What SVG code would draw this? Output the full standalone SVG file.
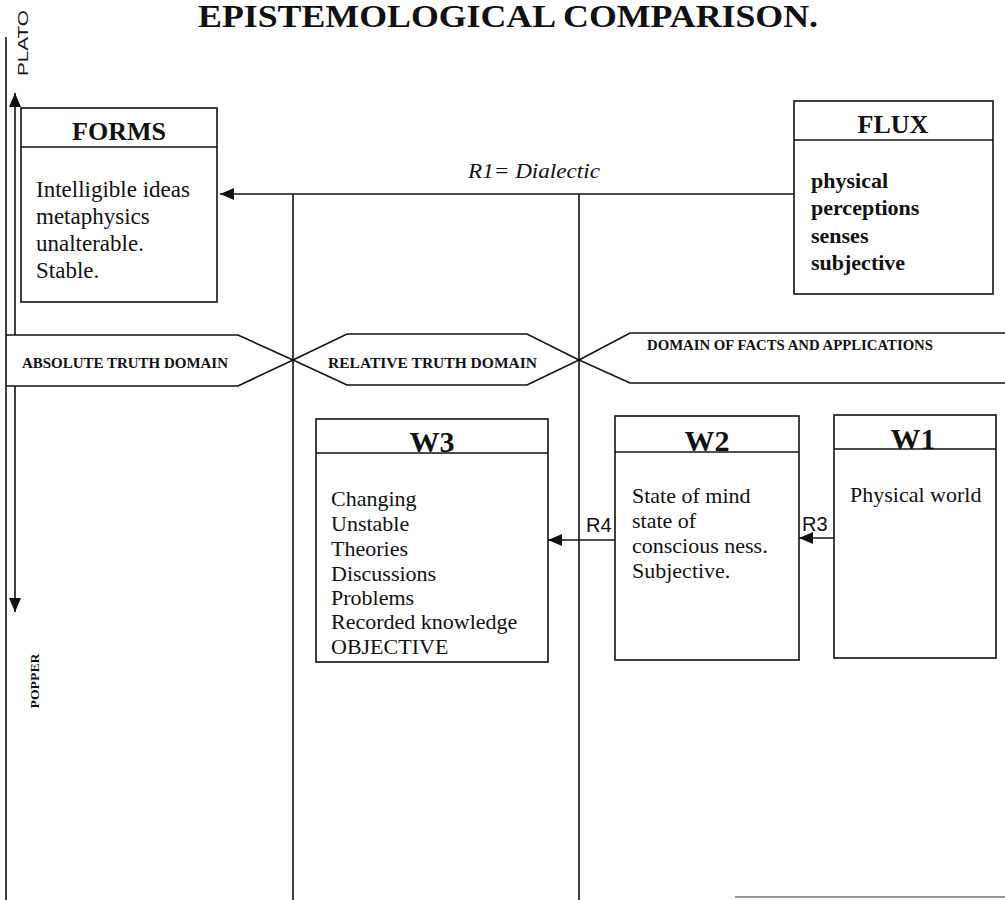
<svg xmlns="http://www.w3.org/2000/svg" width="1005" height="900" viewBox="0 0 1005 900">
<style>
.ln{stroke:#111;stroke-width:1.6;fill:none}
.box{stroke:#111;stroke-width:1.6;fill:#fff}
.band{stroke:#111;stroke-width:1.6;fill:#fff}
.t{font-family:"Liberation Serif","Times New Roman",serif;fill:#111}
.body{font-size:22px}
.fb{font-size:23px}
.bb{font-size:22px;font-weight:bold}
.hd{font-weight:bold;font-size:26px}
.w{font-weight:bold;font-size:30px}
.dom{font-family:"Liberation Serif","Times New Roman",serif;font-weight:bold;font-size:14.5px;fill:#111}
.lab{font-family:"Liberation Sans",Arial,sans-serif;font-size:20px;fill:#111}
</style>
<defs>
<marker id="ah" markerWidth="14" markerHeight="12" refX="14" refY="6" orient="auto-start-reverse" markerUnits="userSpaceOnUse">
<path d="M0,0 L14,6 L0,12 Z" fill="#111"/>
</marker>
</defs>
<rect x="0" y="0" width="1005" height="900" fill="#fff"/>

<g id="title">
<text class="t" x="198" y="27" font-size="32" font-weight="bold" textLength="620" lengthAdjust="spacingAndGlyphs">EPISTEMOLOGICAL COMPARISON.</text>
</g>

<g id="axis">
<path class="ln" d="M15,612 L15,93" marker-start="url(#ah)" marker-end="url(#ah)"/>
<text transform="translate(28,43) rotate(-90)" text-anchor="middle" font-family="Liberation Sans, Arial, sans-serif" font-size="15" textLength="66" lengthAdjust="spacingAndGlyphs" fill="#111">PLATO</text>
<text transform="translate(39,681) rotate(-90)" text-anchor="middle" font-family="Liberation Serif, serif" font-weight="bold" font-size="13" textLength="55" lengthAdjust="spacingAndGlyphs" fill="#111">POPPER</text>
</g>

<g id="domains">
<path class="band" d="M6,335 L238,335 L293,360 L238,386 L6,386"/>
<path class="band" d="M293,360 L347,334 L527,334 L579,360 L527,385 L347,385 Z"/>
<path class="band" d="M1005,333 L630,333 L579,360 L630,383 L1005,383"/>
<text class="dom" x="22" y="368" textLength="206" lengthAdjust="spacingAndGlyphs">ABSOLUTE TRUTH DOMAIN</text>
<text class="dom" x="328" y="368" textLength="209" lengthAdjust="spacingAndGlyphs">RELATIVE TRUTH DOMAIN</text>
<text class="dom" x="647" y="350" textLength="286" lengthAdjust="spacingAndGlyphs">DOMAIN OF FACTS AND APPLICATIONS</text>
</g>

<g id="frame">
<line class="ln" x1="6" y1="37" x2="6" y2="900"/>
<line class="ln" x1="293" y1="194" x2="293" y2="900"/>
<line class="ln" x1="579" y1="194" x2="579" y2="900"/>
<line x1="735" y1="897" x2="1005" y2="897" stroke="#333" stroke-width="1.2"/>
</g>

<g id="forms">
<rect class="box" x="21" y="108" width="196" height="194"/>
<line class="ln" x1="21" y1="147" x2="217" y2="147"/>
<text class="t hd" x="119" y="140" text-anchor="middle">FORMS</text>
<text class="t fb" x="36" y="197">Intelligible ideas</text>
<text class="t fb" x="36" y="224">metaphysics</text>
<text class="t fb" x="36" y="251">unalterable.</text>
<text class="t fb" x="36" y="278">Stable.</text>
</g>

<g id="flux">
<rect class="box" x="794" y="101" width="199" height="193"/>
<line class="ln" x1="794" y1="140" x2="993" y2="140"/>
<text class="t hd" x="893" y="133" text-anchor="middle">FLUX</text>
<text class="t bb" x="811" y="188">physical</text>
<text class="t bb" x="811" y="215">perceptions</text>
<text class="t bb" x="811" y="243">senses</text>
<text class="t bb" x="811" y="270">subjective</text>
</g>

<g id="w3">
<rect class="box" x="316" y="419" width="232" height="243"/>
<line class="ln" x1="316" y1="453" x2="548" y2="453"/>
<text class="t w" x="432" y="452" text-anchor="middle">W3</text>
<text class="t body" x="331" y="506">Changing</text>
<text class="t body" x="331" y="531">Unstable</text>
<text class="t body" x="331" y="556">Theories</text>
<text class="t body" x="331" y="581">Discussions</text>
<text class="t body" x="331" y="605">Problems</text>
<text class="t body" x="331" y="629">Recorded knowledge</text>
<text class="t body" x="331" y="654">OBJECTIVE</text>
</g>

<g id="w2">
<rect class="box" x="615" y="416" width="184" height="244"/>
<line class="ln" x1="615" y1="452" x2="799" y2="452"/>
<text class="t w" x="707" y="451" text-anchor="middle">W2</text>
<text class="t body" x="632" y="503">State of mind</text>
<text class="t body" x="632" y="528">state of</text>
<text class="t body" x="632" y="553">conscious ness.</text>
<text class="t body" x="632" y="578">Subjective.</text>
</g>

<g id="w1">
<rect class="box" x="834" y="415" width="162" height="243"/>
<line class="ln" x1="834" y1="449" x2="996" y2="449"/>
<text class="t w" x="913" y="449" text-anchor="middle">W1</text>
<text class="t body" x="850" y="502">Physical world</text>
</g>

<g id="connectors">
<path class="ln" d="M794,194 L220,194" marker-end="url(#ah)"/>
<text class="t" x="468" y="178" font-size="21" font-style="italic" textLength="132" lengthAdjust="spacingAndGlyphs">R1= Dialectic</text>
<path class="ln" d="M615,540 L548,540" marker-end="url(#ah)"/>
<text class="lab" x="586" y="532">R4</text>
<path class="ln" d="M834,538 L799,538" marker-end="url(#ah)"/>
<text class="lab" x="802" y="531">R3</text>
</g>
</svg>
